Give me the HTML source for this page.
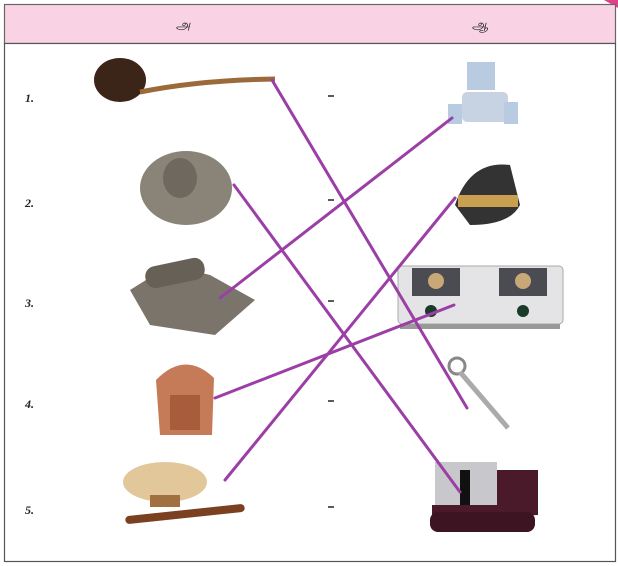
<!DOCTYPE html>
<html><head><meta charset="utf-8"><style>
html,body{margin:0;padding:0;background:#fff;}
body{width:618px;height:566px;position:relative;overflow:hidden;font-family:"Liberation Serif",serif;}
</style></head><body>
<svg width="618" height="566" viewBox="0 0 618 566" xmlns="http://www.w3.org/2000/svg" style="position:absolute;left:0;top:0">
<polygon points="604,0 618,0 618,8" fill="#e0408a"/>
<rect x="4.5" y="4.5" width="611" height="39" fill="#f9d3e3" stroke="#666" stroke-width="1.2"/>
<rect x="4.5" y="43.5" width="611" height="518" fill="#fff" stroke="#555" stroke-width="1.2"/>
<text x="183" y="29" font-size="13" font-style="italic" text-anchor="middle" fill="#222" font-family="Liberation Sans, sans-serif">அ</text>
<text x="480" y="29" font-size="13" font-style="italic" text-anchor="middle" fill="#222" font-family="Liberation Sans, sans-serif">ஆ</text>
<g font-size="12" font-weight="bold" font-style="italic" fill="#222">
<text x="25" y="102">1.</text><text x="25" y="207">2.</text><text x="25" y="307">3.</text><text x="25" y="408">4.</text><text x="25" y="514">5.</text>
</g>
<g stroke="#222" stroke-width="1.5">
<line x1="328" y1="96" x2="334" y2="96"/><line x1="328" y1="200" x2="334" y2="200"/><line x1="328" y1="301" x2="334" y2="301"/><line x1="328" y1="401" x2="334" y2="401"/><line x1="328" y1="507" x2="334" y2="507"/>
</g>
<!-- left items -->
<ellipse cx="120" cy="80" rx="26" ry="22" fill="#3a2518"/>
<path d="M140,92 Q200,80 275,79" stroke="#9a6a3a" stroke-width="5" fill="none"/>
<ellipse cx="186" cy="188" rx="46" ry="37" fill="#8a8478"/>
<ellipse cx="180" cy="178" rx="17" ry="20" fill="#6e685e"/>
<polygon points="130,290 170,265 210,275 255,300 215,335 150,325" fill="#7a746a"/>
<rect x="145" y="262" width="60" height="22" rx="10" fill="#666056" transform="rotate(-12 175 273)"/>
<path d="M156,380 Q185,350 214,378 L212,435 L160,435 Z" fill="#c57a58"/>
<rect x="170" y="395" width="30" height="35" fill="#a85c3c"/>
<ellipse cx="165" cy="482" rx="42" ry="20" fill="#e2c79a"/>
<rect x="150" y="495" width="30" height="12" fill="#a07040"/>
<rect x="125" y="510" width="120" height="8" rx="4" fill="#7a4020" transform="rotate(-6 185 514)"/>
<!-- right items -->
<rect x="467" y="62" width="28" height="28" fill="#b8cbe0"/>
<rect x="462" y="92" width="46" height="30" rx="5" fill="#c7d3e3"/>
<rect x="448" y="104" width="14" height="20" fill="#b8cbe0"/><rect x="504" y="102" width="14" height="22" fill="#b8cbe0"/>
<path d="M455,205 Q470,160 510,165 L520,205 Q510,225 470,225 Z" fill="#333"/>
<rect x="458" y="195" width="60" height="12" fill="#c9a050"/>
<rect x="398" y="266" width="165" height="58" rx="4" fill="#e4e4e6" stroke="#aaa"/>
<rect x="412" y="268" width="48" height="28" fill="#4a4c52"/><rect x="499" y="268" width="48" height="28" fill="#4a4c52"/>
<circle cx="436" cy="281" r="8" fill="#c9a878"/><circle cx="523" cy="281" r="8" fill="#c9a878"/>
<circle cx="431" cy="311" r="6" fill="#1a3a2a"/><circle cx="523" cy="311" r="6" fill="#1a3a2a"/>
<rect x="400" y="324" width="160" height="5" fill="#999"/>
<circle cx="457" cy="366" r="8" fill="none" stroke="#888" stroke-width="3"/>
<line x1="460" y1="372" x2="508" y2="428" stroke="#aaa" stroke-width="5"/>
<rect x="435" y="462" width="62" height="52" fill="#c8c8cc"/>
<rect x="460" y="470" width="10" height="40" fill="#111"/>
<path d="M497,470 L538,470 L538,515 L432,520 L432,505 L497,505 Z" fill="#4a1a2a"/>
<rect x="430" y="512" width="105" height="20" rx="8" fill="#3d1422"/>
<!-- lines -->
<g stroke="#9b3fa6" stroke-width="3" stroke-linecap="round">
<line x1="272" y1="80" x2="467" y2="408"/>
<line x1="234" y1="185" x2="460" y2="492"/>
<line x1="220" y1="298" x2="452" y2="118"/>
<line x1="215" y1="398" x2="454" y2="305"/>
<line x1="225" y1="480" x2="455" y2="198"/>
</g>
</svg>
</body></html>
